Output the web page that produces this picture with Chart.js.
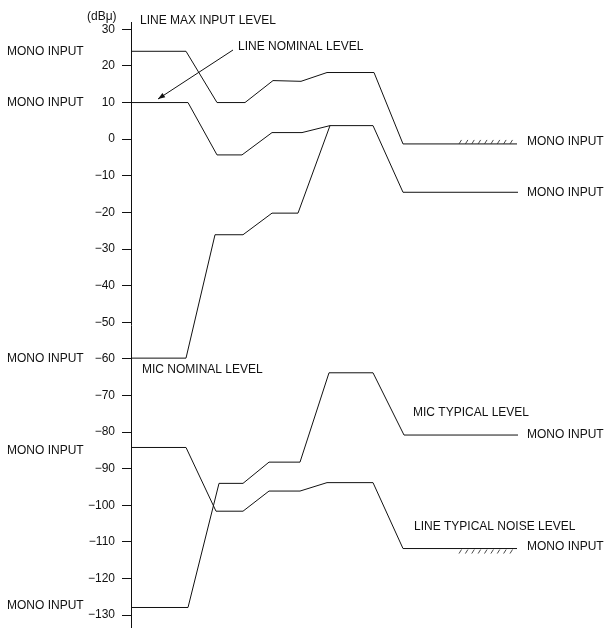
<!DOCTYPE html>
<html>
<head>
<meta charset="utf-8">
<script src="https://cdn.jsdelivr.net/npm/chart.js@4/dist/chart.umd.min.js"></script>
<style>
html,body{margin:0;padding:0;background:#fff;}
canvas{display:block;}
</style>
</head>
<body>
<canvas id="c" width="605" height="628"></canvas>
<script>
// ---- data (x = signal-flow stage position, y = level in dBu) ----
const yTicks = [30, 20, 10, 0, -10, -20, -30, -40, -50, -60, -70, -80, -90, -100, -110, -120, -130];

const lineMaxX   = [0, 55, 86, 114, 142, 170, 196, 243, 272, 386];
const lineMaxY   = [24, 24, 10, 10, 16, 15.8, 18.2, 18.2, -1.3, -1.3];

const lineNomX   = [0, 57, 86, 111, 141, 171, 199, 242, 272, 387];
const lineNomY   = [10, 10, -4.3, -4.3, 1.8, 1.8, 3.7, 3.7, -14.5, -14.5];

const lineMinX   = [0, 55, 84, 112, 141, 167, 199];
const lineMinY   = [-59.8, -59.8, -26.1, -26.1, -20.2, -20.2, 3.7];

const micX       = [0, 57, 88, 112, 138, 169, 198, 242, 273, 387];
const micY       = [-127.9, -127.9, -94, -94, -88.2, -88.2, -63.8, -63.8, -80.8, -80.8];

const noiseX     = [0, 55, 85, 112, 138, 169, 196, 242, 272, 386];
const noiseY     = [-84.2, -84.2, -101.6, -101.6, -96.1, -96.1, -93.8, -93.8, -111.8, -111.8];

const leftLabels  = ["MONO INPUT", "MONO INPUT", "MONO INPUT", "MONO INPUT", "MONO INPUT"];
const rightLabels = ["MONO INPUT", "MONO INPUT", "MONO INPUT", "MONO INPUT"];
const unitLabel = "(dBμ)";
const titles = ["LINE MAX INPUT LEVEL", "LINE NOMINAL LEVEL", "MIC NOMINAL LEVEL", "MIC TYPICAL LEVEL", "LINE TYPICAL NOISE LEVEL"];

// ---- build datasets ----
function pts(xs, ys){ return xs.map((x,i)=>({x:x, y:ys[i]})); }
const series = [
  pts(lineMaxX, lineMaxY),
  pts(lineNomX, lineNomY),
  pts(lineMinX, lineMinY),
  pts(micX, micY),
  pts(noiseX, noiseY)
];

const FONT = '12px "Liberation Sans", Arial, sans-serif';

const annot = {
  id: 'annot',
  afterDraw(chart){
    const ctx = chart.ctx;
    const xs = chart.scales.x, ys = chart.scales.y;
    ctx.save();
    ctx.font = FONT;
    ctx.fillStyle = '#111';
    ctx.textBaseline = 'middle';
    ctx.textAlign = 'left';
    // left labels at series start levels
    const starts = [lineMaxY[0], lineNomY[0], lineMinY[0], noiseY[0], micY[0]];
    const lOff = [0, 0, 0.5, 3, -2];
    starts.forEach((v,i)=>ctx.fillText(leftLabels[i], 7, ys.getPixelForValue(v) + lOff[i]));
    // right labels at series end levels
    const ends = [lineMaxY[lineMaxY.length-1], lineNomY[lineNomY.length-1], micY[micY.length-1], noiseY[noiseY.length-1]];
    const rOff = [-2, 0, 0, -2];
    ends.forEach((v,i)=>ctx.fillText(rightLabels[i], 527, ys.getPixelForValue(v) + rOff[i]));
    // titles
    ctx.fillText(unitLabel, 87, 17);
    ctx.fillText(titles[0], 140, 21);
    ctx.fillText(titles[1], 238, 47);
    ctx.fillText(titles[2], 142, 370);
    ctx.fillText(titles[3], 413, 413);
    ctx.fillText(titles[4], 414, 527);

    // arrow
    const tipX = 158, tipY = 99, fromX = 233, fromY = 50;
    ctx.strokeStyle = '#111';
    ctx.lineWidth = 1;
    ctx.beginPath();
    ctx.moveTo(fromX, fromY);
    ctx.lineTo(tipX, tipY);
    ctx.stroke();
    const ang = Math.atan2(tipY - fromY, tipX - fromX);
    const L = 7, W = 2.6;
    ctx.beginPath();
    ctx.moveTo(tipX, tipY);
    ctx.lineTo(tipX - L*Math.cos(ang) + W*Math.sin(ang), tipY - L*Math.sin(ang) - W*Math.cos(ang));
    ctx.lineTo(tipX - L*Math.cos(ang) - W*Math.sin(ang), tipY - L*Math.sin(ang) + W*Math.cos(ang));
    ctx.closePath();
    ctx.fill();

    // hatching
    ctx.strokeStyle = '#333';
    ctx.lineWidth = 0.9;
    const hx0 = xs.getPixelForValue(330), hx1 = xs.getPixelForValue(381);
    const n = 9, step = (hx1 - hx0) / (n - 1) ;
    const yTop = ys.getPixelForValue(lineMaxY[lineMaxY.length-1]);
    const yBot = ys.getPixelForValue(noiseY[noiseY.length-1]);
    for (let i = 0; i < n; i++){
      const x = hx0 + i*step - 2;
      ctx.beginPath();
      ctx.moveTo(x, yTop); ctx.lineTo(x + 2.5, yTop - 4);
      ctx.stroke();
      ctx.beginPath();
      ctx.moveTo(x, yBot + 5); ctx.lineTo(x + 2.5, yBot + 1);
      ctx.stroke();
    }
    ctx.restore();
  }
};

new Chart(document.getElementById('c'), {
  type: 'line',
  data: {
    datasets: series.map(d => ({
      data: d,
      borderColor: '#111',
      borderWidth: 1,
      pointRadius: 0,
      tension: 0,
      fill: false
    }))
  },
  options: {
    responsive: false,
    animation: false,
    devicePixelRatio: 1,
    layout: { padding: { left: 0, top: 22, right: 0, bottom: 0 } },
    plugins: { legend: { display: false }, tooltip: { enabled: false } },
    scales: {
      x: { type: 'linear', display: false, min: 0, max: 474 },
      y: {
        type: 'linear',
        min: -133.5,
        max: 32,
        afterFit(s){ s.width = 131; s.paddingTop = 0; s.paddingBottom = 0; },
        afterBuildTicks(s){ s.ticks = yTicks.map(v => ({ value: v })); },
        grid: { drawOnChartArea: false, drawTicks: true, tickLength: 9, color: '#111', lineWidth: 1 },
        border: { display: true, color: '#111', width: 1 },
        ticks: {
          color: '#111',
          padding: 7,
          font: { family: '"Liberation Sans", Arial, sans-serif', size: 12 },
          callback: v => v < 0 ? '\u2212' + Math.abs(v) : String(v)
        }
      }
    }
  },
  plugins: [annot]
});
</script>
</body>
</html>
